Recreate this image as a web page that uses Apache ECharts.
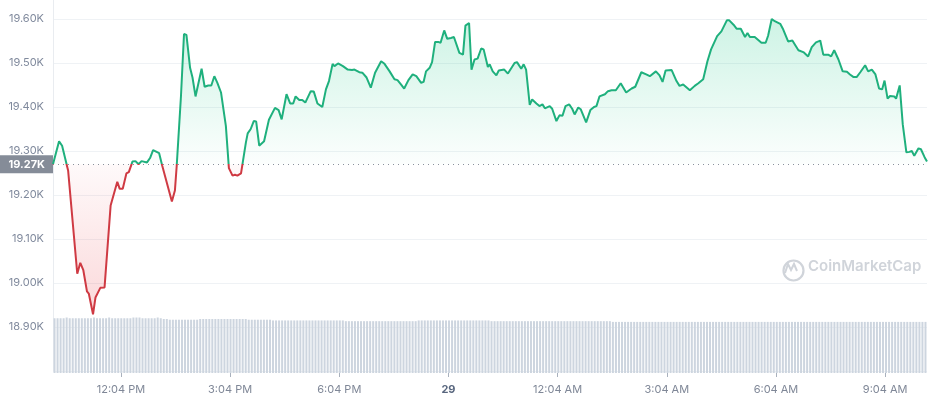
<!DOCTYPE html>
<html>
<head>
<meta charset="utf-8">
<script src="https://cdn.jsdelivr.net/npm/echarts@6/dist/echarts.min.js"></script>
<style>
html,body{margin:0;padding:0;background:#fff;}
#chart{width:929px;height:400px;}
#err{position:absolute;left:60px;top:200px;font:10px monospace;color:#000;white-space:pre;}
</style>
</head>
<body>
<div id="chart"></div>
<div id="err"></div>
<script>
// time in minutes since 00:00 of the 28th
const times = [612,622,627,637,652,657,662,668,671,678,682,690,697,707,718,722,727,733,737,743,748,753,758,767,772,777,787,792,808,813,816,823,828,832,838,842,847,857,862,868,873,878,883,889,897,902,908,912,916,922,930,933,938,943,947,952,960,968,978,984,989,997,1003,1008,1012,1018,1023,1028,1037,1042,1048,1056,1062,1067,1073,1076,1082,1090,1098,1105,1109,1117,1122,1129,1136,1143,1153,1158,1167,1175,1180,1186,1191,1198,1205,1211,1219,1223,1227,1233,1237,1242,1247,1251,1257,1262,1268,1273,1282,1288,1292,1298,1302,1307,1312,1318,1322,1329,1332,1337,1343,1347,1356,1362,1373,1377,1384,1388,1392,1398,1402,1409,1414,1419,1423,1431,1435,1442,1447,1452,1457,1463,1468,1472,1478,1482,1491,1498,1504,1508,1513,1522,1527,1533,1540,1548,1557,1566,1572,1582,1590,1596,1606,1612,1617,1622,1632,1640,1645,1651,1662,1670,1676,1684,1691,1697,1700,1707,1714,1723,1727,1734,1739,1746,1753,1757,1761,1769,1780,1787,1791,1797,1802,1811,1816,1824,1831,1841,1850,1857,1863,1870,1877,1882,1890,1895,1900,1907,1914,1921,1926,1932,1937,1943,1951,1956,1962,1968,1974,1979,1983,1988,1992,1999,2002,2008,2013,2019,2024,2028,2032,2039,2043,2049,2053];
const prices = [19270,19322,19312,19255,19021,19046,19029,18981,18976,18929,18967,18989,18990,19176,19230,19214,19214,19249,19252,19276,19277,19270,19277,19274,19284,19302,19295,19267,19185,19210,19267,19425,19566,19564,19489,19467,19424,19487,19446,19449,19449,19470,19455,19433,19357,19261,19244,19246,19244,19249,19319,19340,19350,19368,19367,19312,19322,19371,19398,19393,19372,19429,19408,19408,19424,19416,19416,19410,19436,19435,19408,19400,19440,19459,19498,19493,19499,19493,19485,19484,19485,19479,19478,19467,19444,19478,19504,19499,19481,19463,19461,19451,19442,19461,19474,19470,19455,19457,19481,19489,19502,19548,19548,19546,19574,19555,19557,19559,19523,19519,19585,19591,19485,19508,19510,19533,19531,19491,19497,19481,19472,19483,19485,19476,19500,19502,19487,19497,19485,19405,19417,19408,19402,19406,19397,19402,19396,19368,19381,19380,19402,19406,19396,19383,19399,19395,19365,19393,19400,19402,19424,19429,19436,19438,19438,19454,19433,19442,19446,19479,19474,19470,19481,19472,19457,19483,19484,19459,19448,19451,19438,19448,19454,19463,19504,19531,19528,19561,19572,19597,19597,19587,19578,19578,19559,19568,19559,19559,19546,19546,19562,19600,19595,19589,19576,19549,19551,19529,19524,19515,19536,19547,19551,19519,19519,19515,19529,19508,19481,19480,19474,19468,19468,19479,19495,19481,19485,19474,19442,19440,19460,19419,19425,19424,19419,19449,19361,19297,19298,19300,19289,19306,19304,19286,19276];
const baseline = 19270;
// volume bars (relative units), one per 5 minutes
const volume = [
75,75,75,75,76,75,75,75,75,75,75,75,
75,76,75,75,75,75,76,75,75,75,75,75,
75,75,76,76,76,75,75,75,75,75,76,75,
74,74,73,73,73,73,73,73,73,73,73,73,
74,74,74,74,74,74,74,74,74,74,74,74,
74,74,74,74,73,73,73,73,73,73,73,73,
72,72,72,72,72,72,72,72,72,72,72,72,
72,72,72,72,72,72,72,72,72,72,72,72,
71,71,71,71,71,71,71,71,71,71,71,71,
71,71,71,71,71,71,71,71,71,71,71,71,
72,72,72,72,72,72,72,72,72,72,72,72,
72,72,72,72,72,72,72,72,72,72,72,72,
71,71,71,71,71,71,71,71,71,71,71,71,
71,71,71,71,71,71,71,71,71,71,71,71,
71,71,71,71,71,71,71,71,71,71,71,71,
71,71,71,71,70,70,70,70,70,70,70,70,
70,70,70,70,70,70,70,70,70,70,70,70,
70,70,70,70,70,70,70,70,70,70,70,70,
70,70,70,70,70,70,70,70,70,70,70,70,
70,70,70,70,70,70,70,70,70,70,70,70,
70,70,70,70,70,70,70,70,70,70,70,70,
70,70,70,70,70,70,70,70,70,70,70,70,
70,70,70,70,70,70,70,70,70,70,70,70,
70,70,70,70,70,70,70,70,70,70,70,70
];
const tickValues = [724,904,1084,1264,1444,1624,1804,1984];
const tickLabels = ['12:04 PM','3:04 PM','6:04 PM','29','12:04 AM','3:04 AM','6:04 AM','9:04 AM'];
const yTicks = [18900,19000,19100,19200,19300,19400,19500,19600];

const GREEN = '#1fb07d';
const RED = '#cf3a43';

const linePts = times.map((t,i)=>[t, prices[i]]);
const upPts = times.map((t,i)=>[t, Math.max(prices[i], baseline)]);
const dnPts = times.map((t,i)=>[t, Math.min(prices[i], baseline)]);

const chart = echarts.init(document.getElementById('chart'), null, {renderer:'canvas'});
const option = {
  animation:false,
  backgroundColor:'#fff',
  textStyle:{fontFamily:'Inter, "Noto Sans", sans-serif'},
  grid:[
    {left:53, right:2, top:-25, bottom:29, containLabel:false, outerBoundsMode:'none'},
    {left:53, right:2, top:300, bottom:27, containLabel:false, outerBoundsMode:'none'}
  ],
  xAxis:[
    {type:'value', gridIndex:0, min:times[0], max:times[times.length-1], offset:2,
     splitLine:{show:false}, axisLine:{show:false},
     axisTick:{show:true, length:4, customValues:tickValues, lineStyle:{color:'#a9b1bd'}},
     axisLabel:{customValues:tickValues, margin:11, color:'#7f8797', fontSize:11,
       formatter:function(v){const i=tickValues.indexOf(v); const s=i>=0?tickLabels[i]:''; return s==='29'?'{b|29}':s;},
       rich:{b:{fontWeight:'bold', color:'#58667e', fontSize:11}}}
    },
    {type:'category', gridIndex:1, data:volume.map((_,i)=>i), show:false, boundaryGap:true}
  ],
  yAxis:[
    {type:'value', gridIndex:0, min:18800, max:19700, interval:100, position:'left',
     axisLine:{show:true, lineStyle:{color:'#e9ecf0'}}, axisTick:{show:false},
     splitLine:{lineStyle:{color:'#eff2f5'}},
     axisLabel:{margin:9, color:'#808a9d', fontSize:11,
       formatter:function(v){return yTicks.indexOf(v)>=0 ? (v/1000).toFixed(2)+'K' : '';}}
    },
    {type:'value', gridIndex:1, min:0, max:100, show:false, splitLine:{show:false}}
  ],
  series:[
    {type:'line', xAxisIndex:0, yAxisIndex:0, data:upPts, symbol:'none', silent:true,
     lineStyle:{width:0}, z:1,
     areaStyle:{origin:baseline, color:new echarts.graphic.LinearGradient(0,0,0,1,[
       {offset:0,color:'rgba(22,199,132,0.30)'},{offset:1,color:'rgba(22,199,132,0.02)'}])}},
    {type:'line', xAxisIndex:0, yAxisIndex:0, data:dnPts, symbol:'none', silent:true,
     lineStyle:{width:0}, z:1,
     areaStyle:{origin:baseline, color:new echarts.graphic.LinearGradient(0,0,0,1,[
       {offset:0,color:'rgba(234,57,67,0.04)'},{offset:1,color:'rgba(234,57,67,0.28)'}])}},
    {type:'line', xAxisIndex:0, yAxisIndex:0, data:linePts, symbol:'none', z:5,
     lineStyle:{width:2, color:GREEN},
     markLine:{silent:true, symbol:['none','none'],
       lineStyle:{type:[1,4], color:'#8a919c', width:1},
       label:{show:true, position:'start', formatter:'19.27K', color:'#fff', fontWeight:'bold',
         fontSize:11, backgroundColor:'#858c98', padding:[4,8,3,9], distance:0},
       data:[{yAxis:baseline}]}},
    {type:'bar', xAxisIndex:1, yAxisIndex:1, data:volume, barWidth:2, z:0,
     itemStyle:{color:'#cdd5df'}, silent:true}
  ],
  graphic:[
    {type:'circle', left:781, top:258, shape:{r:10}, style:{fill:'none', stroke:'#d0d4da', lineWidth:2.2}, z:0},
    {type:'polyline', shape:{points:[[785,273],[788,264],[791,270],[794,264],[797,271]]}, style:{fill:'none', stroke:'#d0d4da', lineWidth:2}, z:0},
    {type:'text', left:808, top:259, style:{text:'CoinMarketCap', fill:'#d0d4da', font:'600 15px Inter, sans-serif'}, z:0}
  ]
};
try {
  chart.setOption(option);
  const by = chart.convertToPixel({gridIndex:0}, [times[0], baseline])[1];
  const f = by/400;
  chart.setOption({series:[{},{},{lineStyle:{color:new echarts.graphic.LinearGradient(0,0,0,400,[
    {offset:0,color:GREEN},{offset:f,color:GREEN},{offset:f,color:RED},{offset:1,color:RED}], true)}}]});
} catch(e) {
  document.getElementById('err').textContent = String(e && e.stack || e).slice(0,1200);
}
</script>
</body>
</html>
